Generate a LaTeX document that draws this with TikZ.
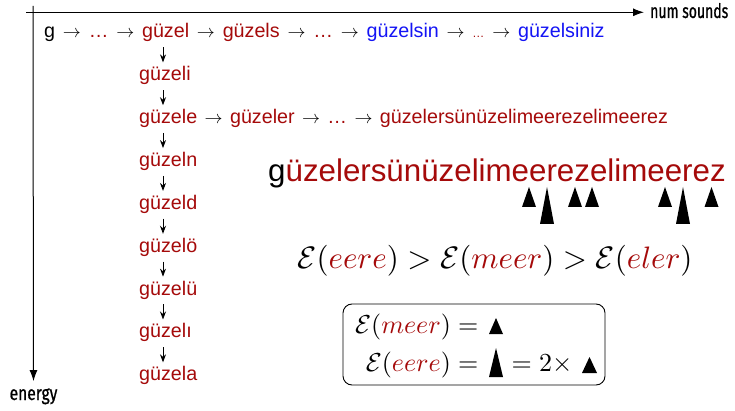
\documentclass[tikz,border=0pt]{standalone}
\usepackage{fontspec}
\setmainfont{Liberation Sans}
\newfontfamily\labelfont[FakeStretch=0.78,FakeBold=0.8]{Fira Sans}
\newfontfamily\labelfontn[FakeStretch=0.70,FakeBold=0.8]{Fira Sans}
\DeclareFontShape{OML}{cmm}{m}{it}{<->cmmi10}{\skewchar\font=127 }
\DeclareFontShape{OMS}{cmsy}{m}{n}{<->cmsy10}{\skewchar\font=48 }
\DeclareFontShape{OT1}{cmr}{m}{n}{<->cmr10}{}
\DeclareFontShape{OMX}{cmex}{m}{n}{<->cmex10}{}
\usetikzlibrary{arrows.meta,positioning}
\definecolor{dr}{RGB}{165,10,10}
\definecolor{bl}{RGB}{20,20,245}
\newcommand\DR[1]{\textcolor{dr}{#1}}
\newcommand\mytri[4]{\fill (#1-#3/2,#2) -- (#1+#3/2,#2) -- (#1,#2-#4) -- cycle;}
\begin{document}
\begin{tikzpicture}[x=1pt,y=-1pt,
  tok/.style={inner sep=0pt, anchor=base west, font=\fontsize{19.7}{23}\selectfont},
  arr/.style={tok, font=\fontsize{18}{22}\selectfont},
  word/.style={tok, text=dr},
  after/.style={right=7.4pt of #1.base east, anchor=base west},
  after2/.style={right=7pt of #1.base east, anchor=base west},
  axislabel/.style={inner sep=0pt, anchor=base, font=\labelfont\fontsize{20}{24}\selectfont},
  axisline/.style={line width=1pt, -{Latex[length=11pt,width=8pt]}},
  varr/.style={line width=0.9pt, -{Stealth[length=8pt,width=6pt]}, shorten <=5pt, shorten >=4pt},
  bigtxt/.style={inner sep=0pt, anchor=base west, font=\fontsize{31.3}{36}\selectfont},
  boxmath/.style={inner sep=0pt, font=\fontsize{26}{30}\selectfont},
  smalltri/.pic={\fill (-7,0) -- (7,0) -- (0,-20) -- cycle;},
  talltri/.pic={\fill (-7,0) -- (7,0) -- (0,-37) -- cycle;}
]
\useasboundingbox (0,0) rectangle (735,411);
\fill[white] (0,0) rectangle (735,411);

% axes
\coordinate (hx0) at (26,12.3);
\coordinate (vy0) at (33,6);
\node[axislabel, anchor=base west, font=\labelfontn\fontsize{20}{24}\selectfont] (xl) at (650,18) {num sounds};
\node[axislabel] (yl) at (33.5,400) {energy};
\draw[axisline, shorten >=6pt] (hx0) -- (xl.west |- hx0);
\draw[axisline, shorten >=7pt] (vy0) -- (yl.north);

% row 0
\node[tok] (t0g) at (44,38) {g};
\node[arr, after=t0g] (t0a1) {$\rightarrow$};
\node[word, after=t0a1] (t0d1) {…};
\node[arr, after=t0d1] (t0a2) {$\rightarrow$};
\node[word, after=t0a2] (r0) {güzel};
\node[arr, after=r0] (t0a3) {$\rightarrow$};
\node[word, after=t0a3] (t0w2) {güzels};
\node[arr, after=t0w2] (t0a4) {$\rightarrow$};
\node[word, after=t0a4] (t0d2) {…};
\node[arr, after=t0d2] (t0a5) {$\rightarrow$};
\node[tok, text=bl, after=t0a5] (t0w3) {güzelsin};
\node[arr, after=t0w3] (t0a6) {$\rightarrow$};
\node[word, font=\fontsize{12}{14}\selectfont, after=t0a6] (t0d3) {…};
\node[arr, after=t0d3] (t0a7) {$\rightarrow$};
\node[tok, text=bl, after=t0a7] (t0w4) {güzelsiniz};

% column
\coordinate (col) at (163,0);
\node[word] (r1) at (139,80.85) {güzeli};
\node[word] (r2) at (139,123.7) {güzele};
\node[word] (r3) at (139,166.55) {güzeln};
\node[word] (r4) at (139,209.4) {güzeld};
\node[word] (r5) at (139,252.25) {güzelö};
\node[word] (r6) at (139,295.1) {güzelü};
\node[word] (r7) at (139,337.95) {güzelı};
\node[word] (r8) at (139,380.8) {güzela};
\foreach \a/\b in {r0/r1,r1/r2,r2/r3,r3/r4,r4/r5,r5/r6,r6/r7,r7/r8}
  \draw[varr] (\a.south -| col) -- (\b.north -| col);

% row 2
\node[arr, after2=r2] (t2a1) {$\rightarrow$};
\node[word, after2=t2a1] (t2w1) {güzeler};
\node[arr, after2=t2w1] (t2a2) {$\rightarrow$};
\node[word, after2=t2a2] (t2d1) {…};
\node[arr, after2=t2d1] (t2a3) {$\rightarrow$};
\node[word, after2=t2a3] (t2w2) {güzelersünüzelimeerezelimeerez};

% big word and marks
\node[bigtxt] (big) at (268,182) {g\textcolor{dr}{üzelersünüzelimeerezelimeerez}};
\pic at (529,207) {smalltri};
\pic at (547,224) {talltri};
\pic at (575,207) {smalltri};
\pic at (592,207) {smalltri};
\pic at (665,207) {smalltri};
\pic at (683,224) {talltri};
\pic at (711.5,207) {smalltri};

% inequality
\node[inner sep=0pt, anchor=base, font=\fontsize{31}{36}\selectfont] (ineq) at (495,269)
  {$\mathcal{E}(\DR{eere}) > \mathcal{E}(\DR{meer}) > \mathcal{E}(\DR{eler})$};

% box
\node[draw, rounded corners=9pt, line width=0.9pt, minimum width=262pt, minimum height=81pt, inner sep=0pt] (box) at (474,344.5) {};
\node[boxmath, anchor=base east] (m1) at (478.5,333) {$\mathcal{E}(\DR{meer}) =$};
\node[boxmath, anchor=base east] (m2) at (478.5,371) {$\mathcal{E}(\DR{eere}) =$};
\node[boxmath, anchor=base west] (m3) at (511.5,371) {$= 2\times$};
\mytri{496}{334}{14}{16}
\mytri{496}{377}{14}{29}
\mytri{589.5}{373}{15}{16}
\end{tikzpicture}
\end{document}
